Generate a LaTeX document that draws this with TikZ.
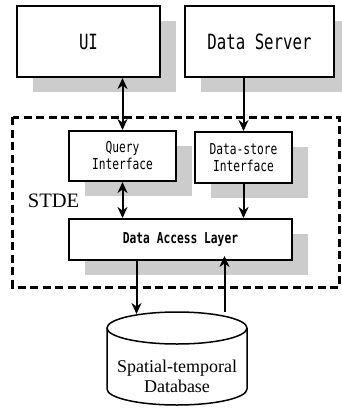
\documentclass[tikz,border=0pt]{standalone}
\usepackage{fontspec}
\setmainfont{Liberation Serif}
\newfontfamily\monofont[FakeStretch=0.75]{DejaVu Sans Mono}
\usetikzlibrary{shapes,arrows,arrows.meta,shadows}

\tikzset{
  module/.style={draw, line width=2pt, fill=white, align=center, inner sep=2pt,
    drop shadow={shadow xshift=16pt, shadow yshift=-15pt, fill=black!20, opacity=1}},
  link/.style={line width=2pt},
}

\begin{document}
\begin{tikzpicture}[x=1pt, y=-1pt, >={Stealth[length=11pt, width=10pt]}]
\useasboundingbox (0,0) rectangle (341,408);
% engine boundary
\draw [line width=3pt, dash pattern=on 8pt off 4.5pt] (12.5,117) rectangle (339.5,287);
\node[font=\fontsize{20.5}{24}\selectfont] (stde) at (53.5,201) {STDE};

\node[module, minimum width=143pt, minimum height=71pt, font=\monofont\fontsize{21}{24}\selectfont] (ui) at (88.5,41.5) {UI};
\node[module, minimum width=149pt, minimum height=71pt, font=\monofont\fontsize{21}{24}\selectfont] (srv) at (259.5,41.5) {Data Server};
\node[module, minimum width=107pt, minimum height=50pt, font=\monofont\fontsize{15}{17}\selectfont] (qi) at (122.5,156) {Query\\Interface};
\node[module, minimum width=97pt, minimum height=51pt, font=\monofont\fontsize{15}{17}\selectfont] (ds) at (243.5,157.5) {Data-store\\Interface};
\node[module, minimum width=223pt, minimum height=41pt, font=\monofont\bfseries\fontsize{15}{17}\selectfont] (dal) at (180.5,239.5) {Data Access Layer};

% database: cylinder drawn round an empty node
\node[minimum width=140pt, minimum height=93pt, outer sep=0pt] (db) at (177,358.5) {};
\draw[line width=1.5pt] ([yshift=-16pt]db.north) ellipse [x radius=70, y radius=16];
\draw[line width=1.5pt] ([yshift=-16pt]db.north west) -- ([yshift=16pt]db.south west)
  arc [start angle=180, end angle=0, x radius=70, y radius=16] -- ([yshift=-16pt]db.north east);
\node[align=center, font=\fontsize{18}{20}\selectfont] (dbname) at ([yshift=-18pt]db.center) {Spatial-temporal\\Database};

\draw[link, <->] (qi.north) -- (qi.north |- ui.south);
\draw[link, ->] (ds.north |- srv.south) -- (ds.north);
\draw[link, <->] (qi.south) -- (qi.south |- dal.north);
\draw[link, ->] (ds.south) -- (ds.south |- dal.north);
\draw[link, ->, shorten >=-2pt] ([xshift=-44pt]dal.south) -- ([xshift=-44pt]dal.south |- db.north);
\draw[link, <-, shorten <=-5pt] ([xshift=44pt]dal.south) -- ([xshift=44pt]dal.south |- db.north);
\end{tikzpicture}
\end{document}
